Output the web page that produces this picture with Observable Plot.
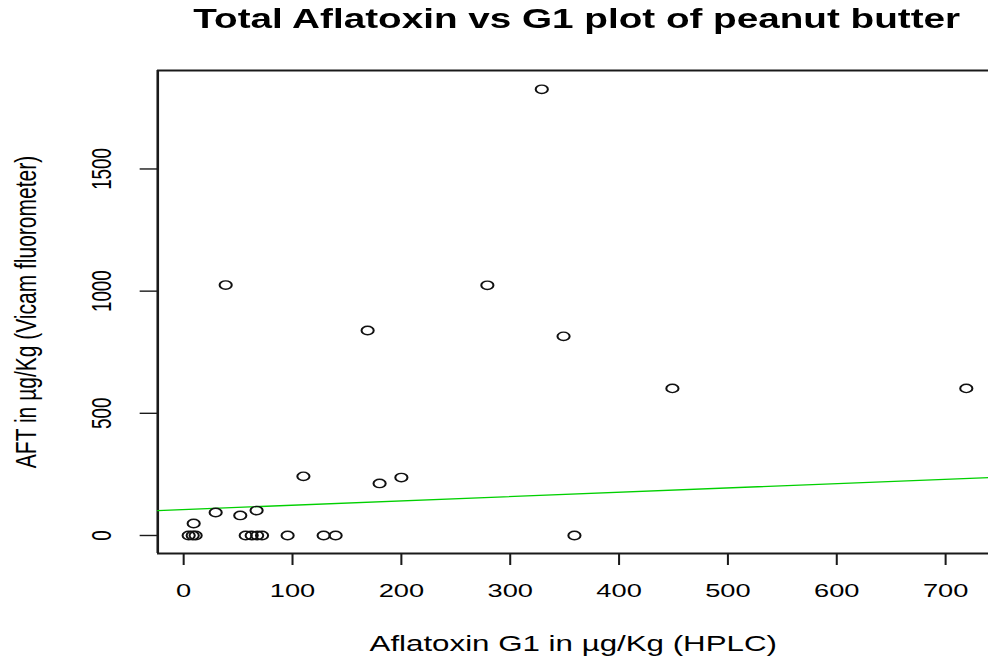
<!DOCTYPE html>
<html><head><meta charset="utf-8">
<script src="https://cdn.jsdelivr.net/npm/d3@7"></script>
<script src="https://cdn.jsdelivr.net/npm/@observablehq/plot@0.6"></script>
<style>
html,body{margin:0;padding:0;background:#fff;overflow:hidden;}
#chart{width:682px;height:662px;transform:scale(1.44868,1);transform-origin:0 0;}
</style></head><body><div id="chart"></div>
<script>
// Aflatoxin G1 (HPLC), µg/Kg
const g1 = [4.6, 8.3, 11, 9.2, 29.4, 38.6, 52, 67, 57, 62.5, 67.5, 72, 95.5, 110, 128.6, 139.6, 169, 180, 200, 279, 329, 349, 359, 449, 719];
// Total aflatoxin (Vicam fluorometer), µg/Kg
const aft = [0, 0, 0, 49, 94, 1025, 82, 102, 0, 0, 0, 0, 0, 242, 0, 0, 839, 213, 237, 1024, 1826, 815, 0, 602, 602];
const xTicks = [0, 100, 200, 300, 400, 500, 600, 700];
const yTicks = [0, 500, 1000, 1500];
// fitted line end points
const fitX = [-23.8, 739.6];
const fitY = [102, 237];
const titleText = "Total Aflatoxin vs G1 plot of peanut butter";
const xLabel = "Aflatoxin G1 in µg/Kg (HPLC)";
const yLabel = "AFT in µg/Kg (Vicam fluorometer)";

const pts = g1.map((x, i) => ({x, y: aft[i]}));
const fit = fitX.map((x, i) => ({x, y: fitY[i]}));
const xDomain = [-23.8, 739.6];
const yDomain = [-73.7, 1903];
const ink = "#1a1a1a";
const fmt = d => String(d);

const chart = Plot.plot({
  width: 682, height: 662,
  marginLeft: 108.4, marginRight: 0, marginTop: 70, marginBottom: 109,
  style: {fontFamily: "'Liberation Sans', Arial, sans-serif", fontSize: "18.8px", color: "#000", background: "#fff", overflow: "visible"},
  x: {type: "linear", domain: xDomain, label: null},
  y: {type: "linear", domain: yDomain, label: null},
  marks: [
    Plot.axisX({ticks: xTicks, tickFormat: fmt, tickSize: 12, tickPadding: 18, stroke: ink, strokeWidth: 1.4, label: null, fill: "#000"}),
    Plot.axisY({ticks: yTicks, tickFormat: fmt, tickSize: 12, tickPadding: 20, tickRotate: -90, stroke: ink, strokeWidth: 1.4, label: null, fill: "#000"}),
    Plot.ruleX([xDomain[0]], {stroke: ink, strokeWidth: 1.8}),
    Plot.ruleY(yDomain, {stroke: ink, strokeWidth: 1.8}),
    Plot.line(fit, {x: "x", y: "y", stroke: "#00d000", strokeWidth: 1.3}),
    Plot.dot(pts, {x: "x", y: "y", r: 4.2, stroke: "#111", strokeWidth: 1.4, fill: "none"}),
    Plot.text([titleText], {text: d => d, frameAnchor: "top", dx: 2.4, dy: -43, lineAnchor: "bottom", textAnchor: "middle", fontSize: 26.7, fontWeight: "bold", fill: "#000"}),
    Plot.text([xLabel], {text: d => d, frameAnchor: "bottom", dy: 97, lineAnchor: "bottom", textAnchor: "middle", fontSize: 21.6, fill: "#000"}),
    Plot.text([yLabel], {text: d => d, frameAnchor: "left", dx: -83.8, rotate: -90, lineAnchor: "bottom", textAnchor: "middle", fontSize: 21, fill: "#000"})
  ]
});
document.getElementById("chart").appendChild(chart);
</script></body></html>
